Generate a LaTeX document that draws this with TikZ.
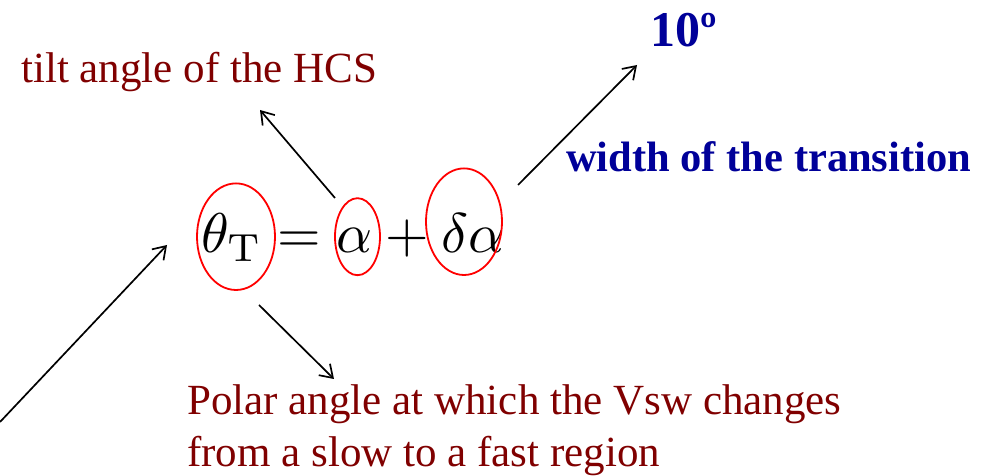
\documentclass[tikz,border=0pt]{standalone}
\usepackage[no-math]{fontspec}
\usepackage{graphicx}
\usetikzlibrary{arrows.meta,shapes.geometric}
\newfontfamily\tnr{Liberation Serif}
\definecolor{dred}{RGB}{128,0,0}
\definecolor{dblue}{RGB}{0,0,153}
\begin{document}
\begin{tikzpicture}[x=1pt,y=1pt,
  redlbl/.style={inner sep=0pt, anchor=base west, text=dred, font=\tnr\fontsize{43}{46}\selectfont},
  bluelbl/.style={inner sep=0pt, anchor=base west, text=dblue, font=\tnr\bfseries\fontsize{42.5}{46}\selectfont},
  ring/.style={draw=red, line width=1.8pt, ellipse, inner sep=0pt},
  arr/.style={-{Straight Barb[length=12pt,width=16pt]}, line width=1.7pt}]
\useasboundingbox (0,0) rectangle (993,476);
% equation
\node[inner sep=0pt, anchor=base west] (eq) at (201,223)
  {\scalebox{5.6}{$\theta_{\mathrm{T}} = \alpha + \delta\alpha$}};
% red rings
\node[ring, minimum width=78pt, minimum height=106.6pt] (rT) at (236,239.3) {};
\node[ring, minimum width=45pt, minimum height=77pt] (rA) at (357.5,239.3) {};
\node[ring, minimum width=76pt, minimum height=106.6pt] (rD) at (464,254.3) {};
% labels
\node[redlbl] (tilt) at (21,393) {tilt angle of the HCS};
\node[redlbl] (polA) at (187,61) {Polar angle at which the Vsw changes};
\node[redlbl] (polB) at (187,9.5) {from a slow to a fast region};
\node[bluelbl] (width) at (566,304) {width of the transition};
\node[inner sep=0pt, anchor=base west, text=dblue, font=\tnr\bfseries\fontsize{50}{54}\selectfont] (ten) at (650,429) {10º};
% arrow end points
\coordinate (a1s) at (335,278); \coordinate (a1e) at (260,366);
\coordinate (a2s) at (518,291); \coordinate (a2e) at (637,411);
\coordinate (a3s) at (0,54);    \coordinate (a3e) at (167,231);
\coordinate (a4s) at (259,171); \coordinate (a4e) at (334,97);
\draw[arr] (a1s) -- (a1e);
\draw[arr] (a2s) -- (a2e);
\draw[arr] (a3s) -- (a3e);
\draw[arr] (a4s) -- (a4e);
\end{tikzpicture}
\end{document}
